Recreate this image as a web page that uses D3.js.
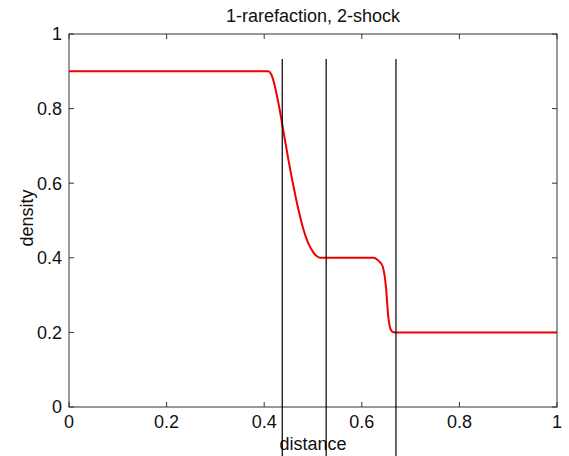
<!DOCTYPE html>
<html>
<head>
<meta charset="utf-8">
<script src="https://cdn.jsdelivr.net/npm/d3@7"></script>
<style>
  body { margin: 0; background: #fff; }
  text { font-family: "Liberation Sans", Arial, sans-serif; }
</style>
</head>
<body>
<div id="chart"></div>
<script>
// density profile
var distance = [0, 0.408, 0.414, 0.420, 0.426, 0.432, 0.440, 0.450, 0.460, 0.470, 0.480, 0.490, 0.500, 0.508, 0.515,
                0.624, 0.632, 0.638, 0.643, 0.647, 0.650, 0.654, 0.657, 0.660, 0.664, 0.668, 1];
var density  = [0.9, 0.9, 0.893, 0.870, 0.835, 0.795, 0.735, 0.660, 0.592, 0.530, 0.478, 0.440, 0.416, 0.404, 0.400,
                0.400, 0.395, 0.387, 0.376, 0.350, 0.314, 0.245, 0.218, 0.206, 0.201, 0.200, 0.200];
// the three vertical markers
var markerX = [0.437, 0.527, 0.670];
var markerTop = 0.933, markerBottom = -0.14;
var tickValues = [0, 0.2, 0.4, 0.6, 0.8, 1];
var tickLabels = ["0", "0.2", "0.4", "0.6", "0.8", "1"];

var width = 569, height = 456;
var margin = {left: 69, right: 12, top: 34, bottom: 49};

const svg = d3.select("#chart").append("svg")
    .attr("width", width)
    .attr("height", height);

const x = d3.scaleLinear().domain([0, 1]).range([margin.left, width - margin.right]);
const y = d3.scaleLinear().domain([0, 1]).range([height - margin.bottom, margin.top]);

// box
svg.append("rect")
    .attr("x", x(0)).attr("y", y(1))
    .attr("width", x(1) - x(0)).attr("height", y(0) - y(1))
    .attr("fill", "none")
    .attr("stroke", "#333")
    .attr("stroke-width", 1);

// ticks pointing inward, on all four sides
const tickLen = 5;
const gx = svg.append("g").attr("stroke", "#333");
tickValues.forEach(function(v){
    gx.append("line").attr("x1", x(v)).attr("x2", x(v)).attr("y1", y(0)).attr("y2", y(0) - tickLen);
    gx.append("line").attr("x1", x(v)).attr("x2", x(v)).attr("y1", y(1)).attr("y2", y(1) + tickLen);
    gx.append("line").attr("y1", y(v)).attr("y2", y(v)).attr("x1", x(0)).attr("x2", x(0) + tickLen);
    gx.append("line").attr("y1", y(v)).attr("y2", y(v)).attr("x1", x(1)).attr("x2", x(1) - tickLen);
});

svg.append("g").selectAll("text")
    .data(tickValues)
    .join("text")
    .attr("x", d => x(d))
    .attr("y", y(0) + 21)
    .attr("text-anchor", "middle")
    .attr("font-size", 18)
    .attr("fill", "#111")
    .text((d, i) => tickLabels[i]);

svg.append("g").selectAll("text")
    .data(tickValues)
    .join("text")
    .attr("x", x(0) - 7)
    .attr("y", d => y(d))
    .attr("dy", "0.35em")
    .attr("text-anchor", "end")
    .attr("font-size", 18)
    .attr("fill", "#111")
    .text((d, i) => tickLabels[i]);

// red density curve
const line = d3.line()
    .x((d, i) => x(distance[i]))
    .y(d => y(d))
    .curve(d3.curveMonotoneX);

svg.append("path")
    .datum(density)
    .attr("fill", "none")
    .attr("stroke", "#ee0000")
    .attr("stroke-width", 2)
    .attr("d", line);

// labels
svg.append("text")
    .attr("x", (x(0) + x(1)) / 2)
    .attr("y", 22)
    .attr("text-anchor", "middle")
    .attr("font-size", 18)
    .attr("fill", "#111")
    .text("1-rarefaction, 2-shock");

svg.append("text")
    .attr("x", (x(0) + x(1)) / 2)
    .attr("y", 450)
    .attr("text-anchor", "middle")
    .attr("font-size", 18)
    .attr("fill", "#111")
    .text("distance");

svg.append("text")
    .attr("transform", "translate(" + 33 + "," + 218 + ") rotate(-90)")
    .attr("text-anchor", "middle")
    .attr("font-size", 18)
    .attr("fill", "#111")
    .text("density");

// vertical marker lines (drawn last, over the text)
svg.append("g").selectAll("line")
    .data(markerX)
    .join("line")
    .attr("x1", d => x(d)).attr("x2", d => x(d))
    .attr("y1", y(markerTop)).attr("y2", y(markerBottom))
    .attr("stroke", "#000")
    .attr("stroke-width", 1.2);
</script>
</body>
</html>
